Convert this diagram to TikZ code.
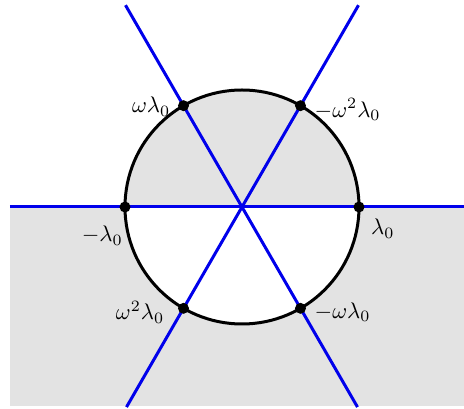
\documentclass[tikz,border=0pt]{standalone}
\usepackage{graphicx}
\definecolor{bggray}{RGB}{227,227,227}
\definecolor{lineblue}{RGB}{0,0,235}
\newcommand{\biglab}[1]{\scalebox{2.26}{$#1$}}
\tikzset{
  dot/.style={circle,fill=black,inner sep=0pt,minimum size=11pt},
  ray/.style={draw=lineblue,line width=3pt},
  lab/.style={inner sep=0pt}
}
\begin{document}
\begin{tikzpicture}[x=1pt,y=1pt]
\useasboundingbox (-242,-202) rectangle (222,207);
% shading
\fill[bggray] (-232,0) rectangle (222,-199);
\fill[white] (-117,0) arc (180:360:117) -- cycle;
\fill[bggray] (117,0) arc (0:180:117) -- cycle;
% line ends
\coordinate (L) at (-232,0);
\coordinate (R) at (222,0);
\coordinate (TL) at (120:233);
\coordinate (BR) at (300:231);
\coordinate (TR) at (60:233);
\coordinate (BL) at (240:231);
\draw[ray] (L) -- (R);
\draw[ray] (TL) -- (BR);
\draw[ray] (TR) -- (BL);
% circle
\draw[line width=3pt] (0,0) circle (117);
% points
\node[dot] (p0) at (0:117) {};
\node[dot] (p1) at (60:117) {};
\node[dot] (p2) at (120:117) {};
\node[dot] (p3) at (180:117) {};
\node[dot] (p4) at (240:117) {};
\node[dot] (p5) at (300:117) {};
% labels
\node[lab,anchor=north west] (l0) at ([shift={(12,-12)}]p0.center) {\biglab{\lambda_0}};
\node[lab,anchor=west] (l1) at ([shift={(14,-4)}]p1.center) {\biglab{-\omega^2\lambda_0}};
\node[lab,anchor=east] (l2) at ([shift={(-13,-1)}]p2.center) {\biglab{\omega\lambda_0}};
\node[lab,anchor=north east] (l3) at ([shift={(-2,-19)}]p3.center) {\biglab{-\lambda_0}};
\node[lab,anchor=east] (l4) at ([shift={(-19,-4)}]p4.center) {\biglab{\omega^2\lambda_0}};
\node[lab,anchor=west] (l5) at ([shift={(14,-4)}]p5.center) {\biglab{-\omega\lambda_0}};
\end{tikzpicture}
\end{document}
